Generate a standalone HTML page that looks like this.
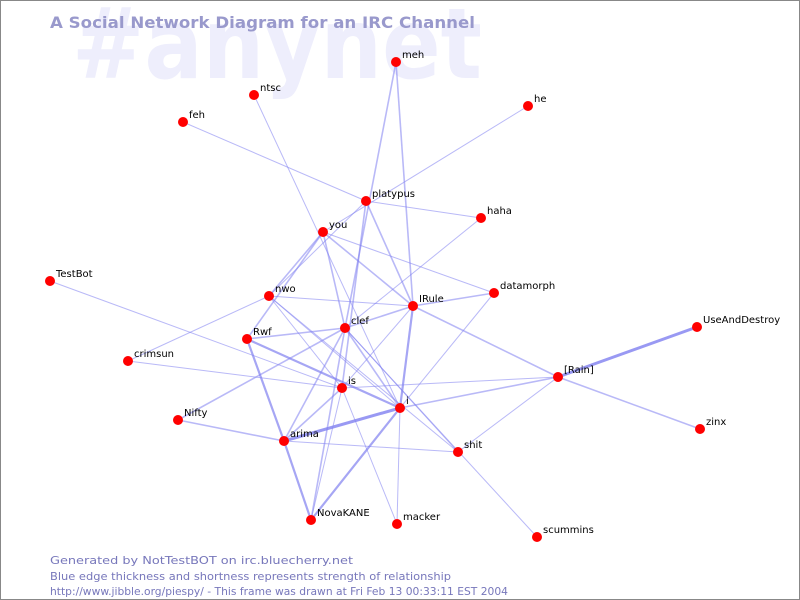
<!DOCTYPE html>
<html><head><meta charset="utf-8"><style>
html,body{margin:0;padding:0;background:#fff;}
svg{display:block;}
</style></head><body>
<svg width="800" height="600" xmlns="http://www.w3.org/2000/svg" font-family="DejaVu Sans, Liberation Sans, sans-serif">
<rect x="0.5" y="0.5" width="799" height="599" fill="#fff" stroke="#888"/>
<text x="72" y="78" font-size="98" font-weight="bold" fill="#eeeefc" textLength="410" lengthAdjust="spacingAndGlyphs">#anynet</text>
<text x="50" y="28" font-size="16" font-weight="bold" fill="#9999cc" textLength="425" lengthAdjust="spacingAndGlyphs">A Social Network Diagram for an IRC Channel</text>
<g stroke="#8080f0" stroke-opacity="0.55" fill="none">
<g stroke-width="1">
<line x1="528" y1="106" x2="323" y2="232"/>
<line x1="183" y1="122" x2="366" y2="201"/>
<line x1="366" y1="201" x2="481" y2="218"/>
<line x1="366" y1="201" x2="269" y2="296"/>
<line x1="254" y1="95" x2="400" y2="408"/>
<line x1="323" y1="232" x2="494" y2="293"/>
<line x1="50" y1="281" x2="342" y2="388"/>
<line x1="269" y1="296" x2="413" y2="306"/>
<line x1="269" y1="296" x2="342" y2="388"/>
<line x1="269" y1="296" x2="458" y2="452"/>
<line x1="345" y1="328" x2="481" y2="218"/>
<line x1="128" y1="361" x2="269" y2="296"/>
<line x1="128" y1="361" x2="342" y2="388"/>
<line x1="342" y1="388" x2="558" y2="377"/>
<line x1="342" y1="388" x2="397" y2="524"/>
<line x1="345" y1="328" x2="537" y2="537"/>
<line x1="345" y1="328" x2="458" y2="452"/>
<line x1="284" y1="441" x2="458" y2="452"/>
<line x1="558" y1="377" x2="458" y2="452"/>
<line x1="400" y1="408" x2="494" y2="293"/>
<line x1="400" y1="408" x2="397" y2="524"/>
<line x1="413" y1="306" x2="342" y2="388"/>
<line x1="342" y1="388" x2="311" y2="520"/>
<line x1="269" y1="296" x2="400" y2="408"/>
</g>
<g stroke-width="1.6">
<line x1="396" y1="62" x2="345" y2="328"/>
<line x1="396" y1="62" x2="413" y2="306"/>
<line x1="366" y1="201" x2="342" y2="388"/>
<line x1="366" y1="201" x2="413" y2="306"/>
<line x1="323" y1="232" x2="269" y2="296"/>
<line x1="323" y1="232" x2="247" y2="339"/>
<line x1="323" y1="232" x2="345" y2="328"/>
<line x1="323" y1="232" x2="413" y2="306"/>
<line x1="247" y1="339" x2="345" y2="328"/>
<line x1="345" y1="328" x2="413" y2="306"/>
<line x1="413" y1="306" x2="494" y2="293"/>
<line x1="413" y1="306" x2="558" y2="377"/>
<line x1="558" y1="377" x2="700" y2="429"/>
<line x1="345" y1="328" x2="178" y2="420"/>
<line x1="345" y1="328" x2="284" y2="441"/>
<line x1="345" y1="328" x2="400" y2="408"/>
<line x1="345" y1="328" x2="311" y2="520"/>
<line x1="284" y1="441" x2="342" y2="388"/>
<line x1="400" y1="408" x2="558" y2="377"/>
<line x1="178" y1="420" x2="284" y2="441"/>
</g>
<g stroke-width="2.2" stroke-opacity="0.7">
<line x1="413" y1="306" x2="400" y2="408"/>
<line x1="247" y1="339" x2="400" y2="408"/>
<line x1="247" y1="339" x2="284" y2="441"/>
<line x1="400" y1="408" x2="311" y2="520"/>
<line x1="284" y1="441" x2="311" y2="520"/>
</g>
<g stroke-width="3" stroke-opacity="0.8">
<line x1="284" y1="441" x2="400" y2="408"/>
<line x1="558" y1="377" x2="697" y2="327"/>
</g>
</g>
<g fill="#ff0000">
<circle cx="396" cy="62" r="5"/><circle cx="254" cy="95" r="5"/><circle cx="528" cy="106" r="5"/>
<circle cx="183" cy="122" r="5"/><circle cx="366" cy="201" r="5"/><circle cx="481" cy="218" r="5"/>
<circle cx="323" cy="232" r="5"/><circle cx="50" cy="281" r="5"/><circle cx="494" cy="293" r="5"/>
<circle cx="269" cy="296" r="5"/><circle cx="413" cy="306" r="5"/><circle cx="345" cy="328" r="5"/>
<circle cx="697" cy="327" r="5"/><circle cx="247" cy="339" r="5"/><circle cx="128" cy="361" r="5"/>
<circle cx="558" cy="377" r="5"/><circle cx="342" cy="388" r="5"/><circle cx="400" cy="408" r="5"/>
<circle cx="178" cy="420" r="5"/><circle cx="700" cy="429" r="5"/><circle cx="284" cy="441" r="5"/>
<circle cx="458" cy="452" r="5"/><circle cx="311" cy="520" r="5"/><circle cx="397" cy="524" r="5"/>
<circle cx="537" cy="537" r="5"/>
</g>
<g font-size="10" fill="#000">
<text x="402" y="58">meh</text><text x="260" y="91">ntsc</text><text x="534" y="102">he</text>
<text x="189" y="118">feh</text><text x="372" y="197">platypus</text><text x="487" y="214">haha</text>
<text x="329" y="228">you</text><text x="56" y="277">TestBot</text><text x="500" y="289">datamorph</text>
<text x="275" y="292">nwo</text><text x="419" y="302">IRule</text><text x="351" y="324">clef</text>
<text x="703" y="323">UseAndDestroy</text><text x="253" y="335">Rwf</text><text x="134" y="357">crimsun</text>
<text x="564" y="373">[Rain]</text><text x="348" y="384">is</text><text x="406" y="404">i</text>
<text x="184" y="416">Nifty</text><text x="706" y="425">zinx</text><text x="290" y="437">arima</text>
<text x="464" y="448">shit</text><text x="317" y="516">NovaKANE</text><text x="403" y="520">macker</text>
<text x="543" y="533">scummins</text>
</g>
<g font-size="11" fill="#7777bb">
<text x="50" y="564" textLength="303" lengthAdjust="spacingAndGlyphs">Generated by NotTestBOT on irc.bluecherry.net</text>
<text x="50" y="580" textLength="401" lengthAdjust="spacingAndGlyphs">Blue edge thickness and shortness represents strength of relationship</text>
<text x="50" y="595" textLength="458" lengthAdjust="spacingAndGlyphs">http://www.jibble.org/piespy/ - This frame was drawn at Fri Feb 13 00:33:11 EST 2004</text>
</g>
</svg>
</body></html>
